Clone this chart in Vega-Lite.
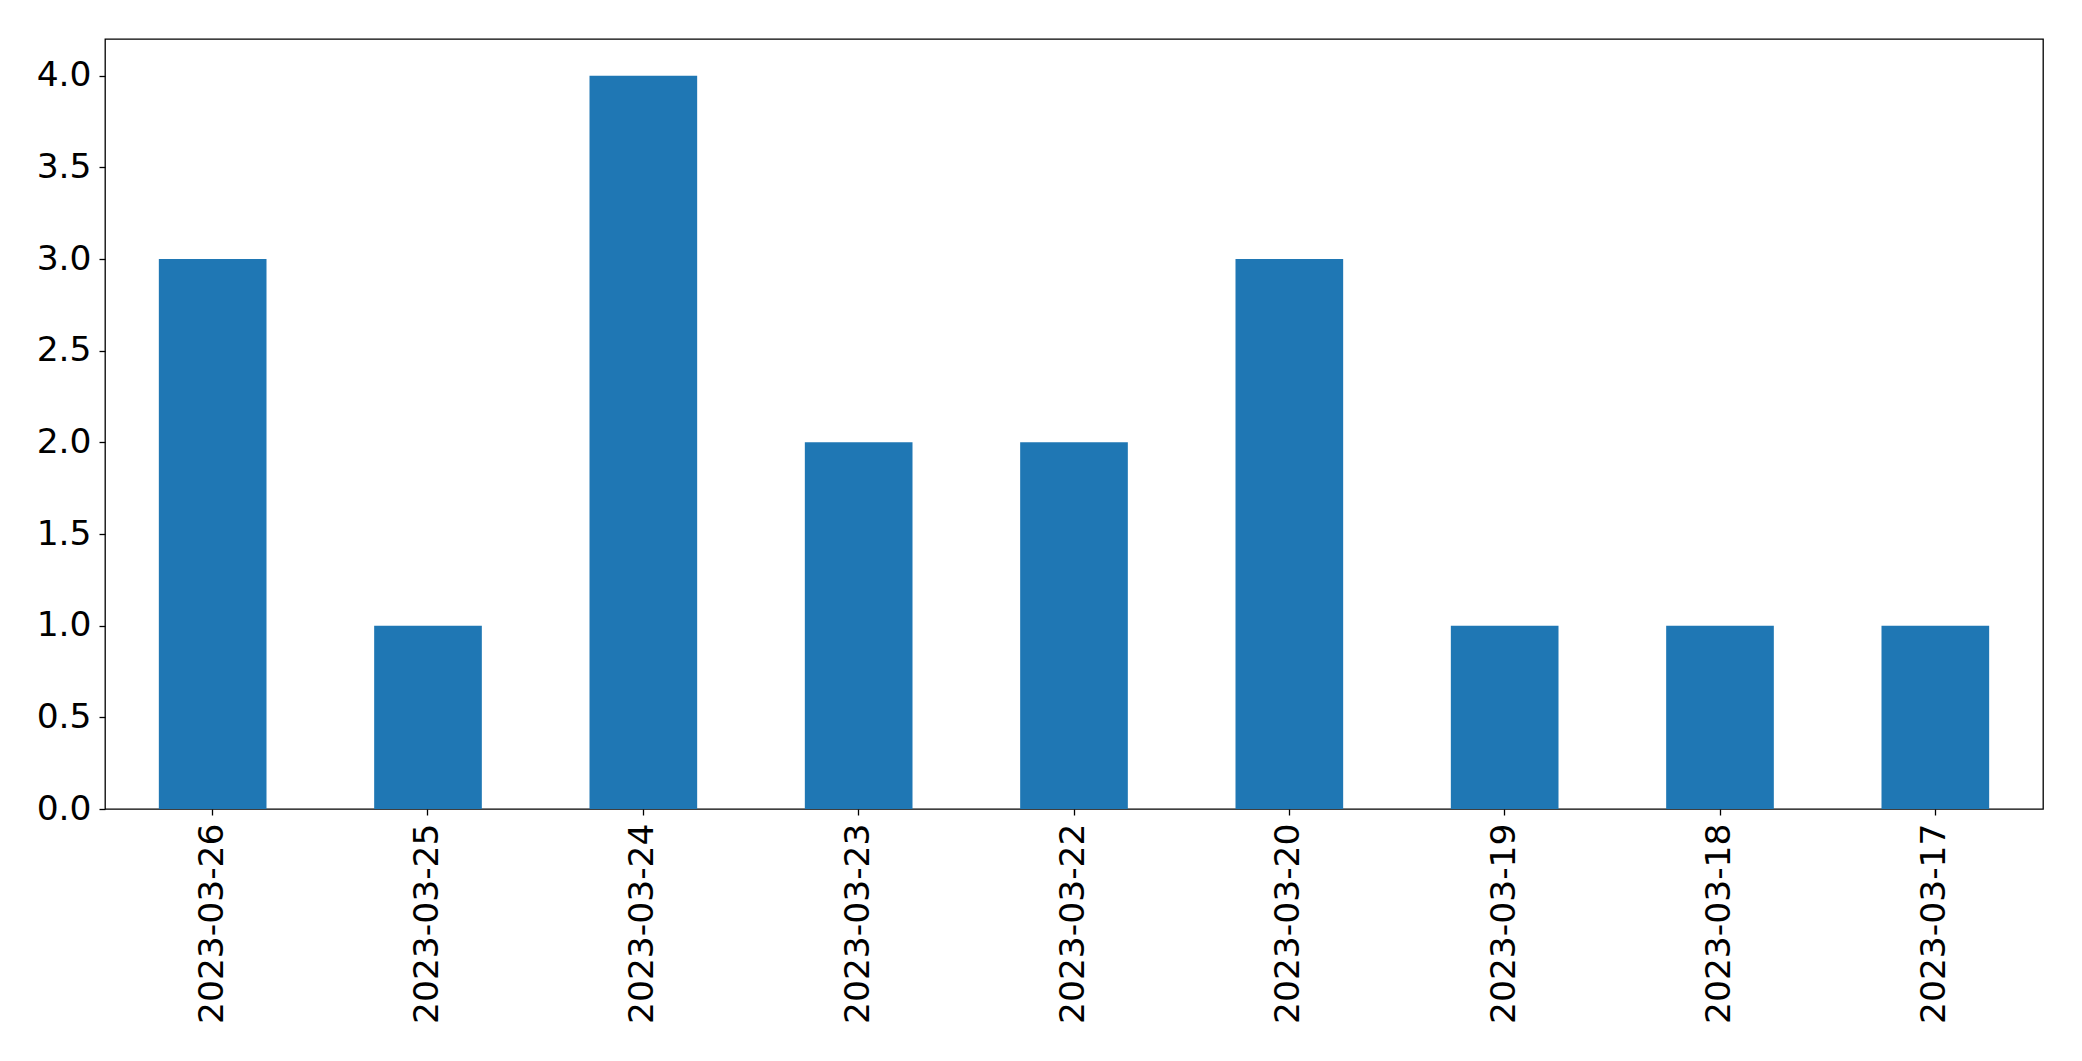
{
  "$schema": "https://vega.github.io/schema/vega-lite/v6.json",
  "autosize": {"type": "none"},
  "width": 1938,
  "height": 770,
  "padding": {"left": 105, "top": 39, "right": 39, "bottom": 252},
  "background": "white",
  "config": {
    "view": {"stroke": "black", "strokeWidth": 1.3},
    "font": "DejaVu Sans",
    "axis": {
      "grid": false,
      "domain": false,
      "labelFont": "DejaVu Sans",
      "labelFontSize": 34.5,
      "labelColor": "black",
      "labelLimit": 0,
      "tickColor": "black",
      "tickWidth": 1.3,
      "tickSize": 6,
      "titleFontSize": 0
    }
  },
  "data": {
    "values": [
      {"date": "2023-03-26", "count": 3},
      {"date": "2023-03-25", "count": 1},
      {"date": "2023-03-24", "count": 4},
      {"date": "2023-03-23", "count": 2},
      {"date": "2023-03-22", "count": 2},
      {"date": "2023-03-20", "count": 3},
      {"date": "2023-03-19", "count": 1},
      {"date": "2023-03-18", "count": 1},
      {"date": "2023-03-17", "count": 1}
    ]
  },
  "mark": {"type": "bar", "color": "#1f77b4"},
  "encoding": {
    "x": {
      "field": "date",
      "type": "nominal",
      "sort": null,
      "scale": {"paddingInner": 0.5, "paddingOuter": 0.25},
      "axis": {"title": null, "labelAngle": -90, "labelPadding": 8, "labelAlign": "right", "labelBaseline": "middle"}
    },
    "y": {
      "field": "count",
      "type": "quantitative",
      "scale": {"domain": [0, 4.2], "nice": false, "zero": true},
      "axis": {"title": null, "values": [0, 0.5, 1, 1.5, 2, 2.5, 3, 3.5, 4], "format": ".1f", "labelPadding": 8}
    }
  }
}
